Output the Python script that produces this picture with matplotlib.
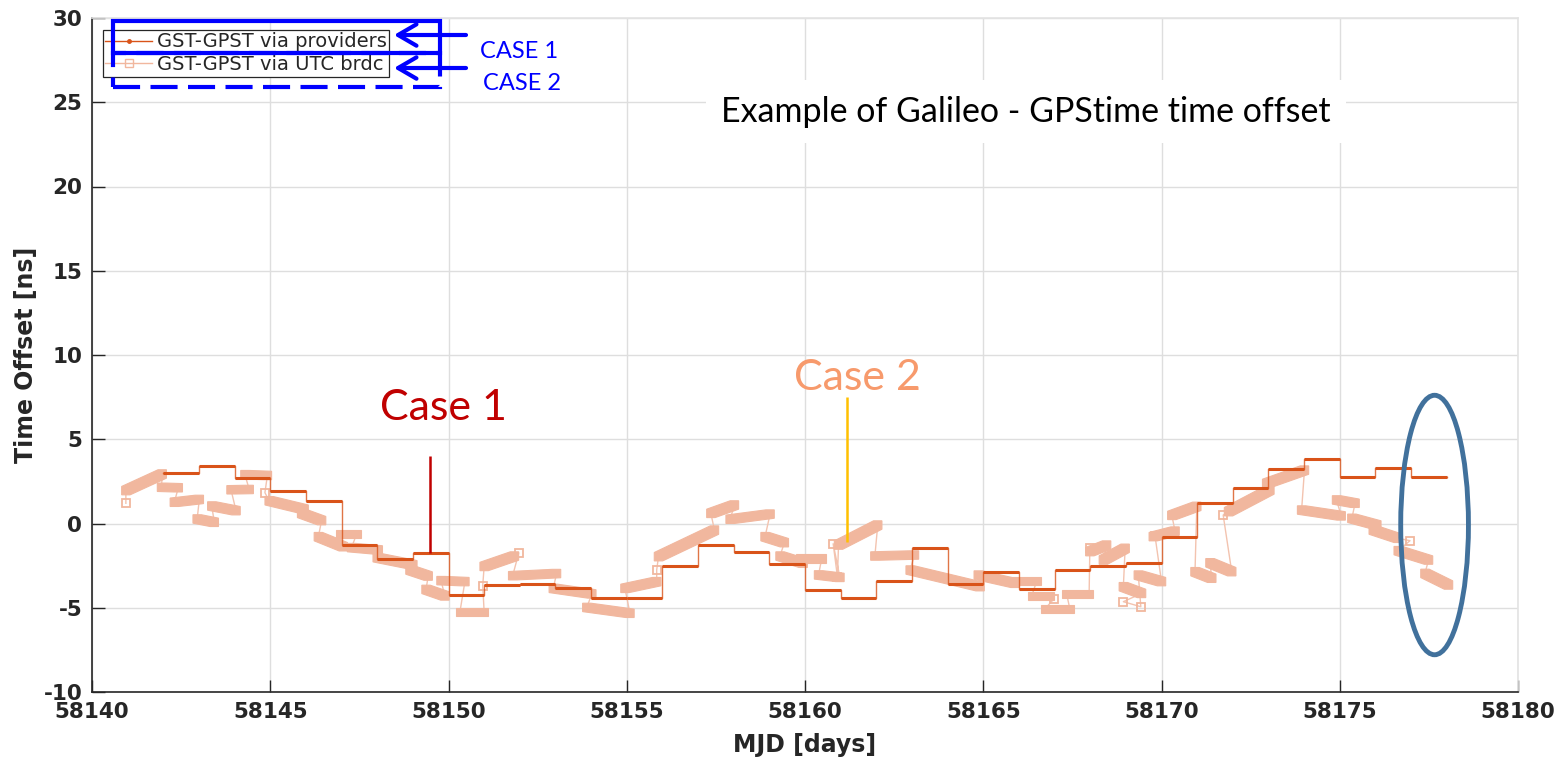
import matplotlib as mpl
mpl.use('Agg')
import matplotlib.pyplot as plt
from matplotlib.lines import Line2D
from matplotlib.patches import Rectangle, Ellipse, FancyArrowPatch, Polygon

plt.rcParams['axes.unicode_minus'] = False

# GST-GPST via providers: daily steps (start MJD, offset in ns)
prov_day = [58142, 58143, 58144, 58145, 58146, 58147, 58148, 58149, 58150, 58151,
            58152, 58153, 58154, 58155, 58156, 58157, 58158, 58159, 58160, 58161,
            58162, 58163, 58164, 58165, 58166, 58167, 58168, 58169, 58170, 58171,
            58172, 58173, 58174, 58175, 58176, 58177]
prov_ns = [2.98, 3.43, 2.68, 1.93, 1.35, -1.30, -2.10, -1.75, -4.25, -3.65,
           -3.62, -3.85, -4.45, -4.45, -2.55, -1.28, -1.70, -2.40, -3.95, -4.44,
           -3.39, -1.43, -3.60, -2.86, -3.90, -2.76, -2.50, -2.36, -0.78, 1.20,
           2.09, 3.25, 3.85, 2.78, 3.29, 2.78]
prov_end = 58178

# GST-GPST via UTC broadcast: each broadcast span (start/end MJD, start/end ns)
utc_t0 = [58140.95, 58140.95, 58141.95, 58142.31, 58142.95, 58143.36, 58143.90, 58144.29,
          58144.85, 58144.97, 58145.88, 58146.35, 58146.96, 58147.28, 58148.00, 58148.92,
          58149.37, 58149.79, 58150.32, 58150.96, 58151.00, 58151.97, 58151.80, 58152.94,
          58153.88, 58154.95, 58155.84, 58155.89, 58157.36, 58157.90, 58158.88, 58159.30,
          58159.86, 58160.38, 58160.79, 58160.91, 58160.94, 58161.96, 58162.95, 58164.86,
          58165.84, 58166.36, 58166.98, 58166.73, 58167.34, 58167.99, 58167.99, 58168.37,
          58168.93, 58168.93, 58169.42, 58169.35, 58169.82, 58169.77, 58170.29, 58170.94,
          58171.36, 58171.73, 58171.88, 58172.95, 58173.93, 58174.91, 58175.34, 58175.94,
          58176.97, 58176.64, 58177.39]
utc_v0 = [1.20, 1.95, 2.15, 1.26, 0.27, 1.04, 2.00, 2.90,
          1.83, 1.35, 0.60, -0.78, -0.64, -1.43, -2.03, -2.76,
          -3.91, -3.39, -5.25, -3.69, -2.55, -1.75, -3.10, -3.85,
          -4.98, -3.85, -2.76, -1.97, 0.60, 0.25, -0.78, -1.93,
          -2.07, -3.05, -1.20, -3.16, -1.28, -1.93, -2.76, -3.06,
          -3.41, -4.30, -4.48, -5.07, -4.20, -1.43, -1.67, -2.17,
          -3.75, -4.64, -4.94, -3.06, -0.76, -0.78, 0.48, -2.86,
          -2.33, 0.50, 0.70, 2.38, 0.80, 1.40, 0.31, -0.39,
          -1.02, -1.61, -2.96]
utc_t1 = [58140.95, 58141.97, 58142.42, 58143.01, 58143.43, 58144.04, 58144.41, 58144.92,
          58144.85, 58145.95, 58146.44, 58147.05, 58147.42, 58148.03, 58149.00, 58149.43,
          58149.90, 58150.46, 58151.00, 58150.96, 58151.85, 58151.97, 58153.03, 58154.02,
          58155.09, 58155.84, 58155.84, 58157.46, 58158.02, 58159.02, 58159.42, 58159.95,
          58160.47, 58160.98, 58160.79, 58160.91, 58162.04, 58163.07, 58164.91, 58165.89,
          58166.50, 58166.87, 58166.98, 58167.43, 58167.97, 58167.99, 58168.46, 58168.98,
          58169.44, 58168.93, 58169.42, 58170.00, 58169.82, 58170.38, 58170.99, 58171.41,
          58171.97, 58171.73, 58173.04, 58174.01, 58175.04, 58175.43, 58176.04, 58176.64,
          58176.97, 58177.49, 58178.05]
utc_v1 = [1.20, 2.94, 2.12, 1.43, 0.07, 0.76, 2.02, 2.85,
          1.83, 0.85, 0.17, -1.38, -0.64, -1.57, -2.45, -3.12,
          -4.30, -3.45, -5.25, -3.69, -1.93, -1.75, -2.97, -4.18,
          -5.33, -3.45, -2.76, -0.39, 1.10, 0.56, -1.14, -2.36,
          -2.07, -3.20, -1.20, -3.16, -0.09, -1.87, -3.75, -3.55,
          -3.41, -4.30, -4.48, -5.07, -4.20, -1.43, -1.28, -1.47,
          -4.15, -4.64, -4.94, -3.45, -0.76, -0.45, 1.02, -3.25,
          -2.86, 0.50, 1.99, 3.17, 0.45, 1.20, -0.09, -0.88,
          -1.02, -2.17, -3.65]

xticks = [58140, 58145, 58150, 58155, 58160, 58165, 58170, 58175, 58180]
yticks = [-10, -5, 0, 5, 10, 15, 20, 25, 30]

c_prov = '#D95319'
c_utc = '#F1B79E'
c_utc_thin = '#F3C3AF'
dark = '#262626'

W, H = 1566, 759
fig = plt.figure(figsize=(W / 100, H / 100), dpi=100)
ax = fig.add_axes([92 / W, 1 - 692 / H, (1518 - 92) / W, (692 - 18) / H])
ax.set_xlim(58140, 58180)
ax.set_ylim(-10, 30)

# providers: thin step line with thick daily levels on top
sx = prov_day + [prov_end]
sy = prov_ns + [prov_ns[-1]]
ax.step(sx, sy, where='post', color=c_prov, lw=1.0, alpha=0.8, zorder=4)
ax.hlines(prov_ns, prov_day, sx[1:], color=c_prov, lw=2.2, zorder=4)

# UTC broadcast: thin line through all points, a band of packed square markers per span
px, py = [], []
for a, b, c, d in zip(utc_t0, utc_v0, utc_t1, utc_v1):
    px += [a, c]
    py += [b, d]
ax.plot(px, py, color=c_utc_thin, lw=1.0, zorder=2)

# half size of a square marker, in data units (about 4 px)
hx = 4.2 / 35.65
hy = 4.2 / 16.85
for a, b, c, d in zip(utc_t0, utc_v0, utc_t1, utc_v1):
    if a == c:
        ax.plot([a], [b], ls='none', marker='s', ms=5.5, mfc='none', mec=c_utc, mew=1.3, zorder=3)
        continue
    if d >= b:
        pts = [(a - hx, b - hy), (a - hx, b + hy), (c - hx, d + hy),
               (c + hx, d + hy), (c + hx, d - hy), (a + hx, b - hy)]
    else:
        pts = [(a - hx, b - hy), (a - hx, b + hy), (a + hx, b + hy),
               (c + hx, d + hy), (c + hx, d - hy), (c - hx, d - hy)]
    ax.add_patch(Polygon(pts, closed=True, fc=c_utc, ec=c_utc, lw=0.8, zorder=3))

ax.set_xticks(xticks)
ax.set_yticks(yticks)
ax.set_xticklabels([str(v) for v in xticks])
ax.set_yticklabels([str(v) for v in yticks])
ax.grid(True, color='#DEDEDE', lw=1.0)
ax.set_axisbelow(True)
ax.tick_params(direction='in', length=9, width=1, colors=dark, pad=7, labelsize=15.5)
for lab in ax.get_xticklabels() + ax.get_yticklabels():
    lab.set_fontweight('bold')
for s in ['left', 'bottom']:
    ax.spines[s].set_color(dark)
    ax.spines[s].set_linewidth(1.2)
for s in ['top', 'right']:
    ax.spines[s].set_color('#E3E3E3')
    ax.spines[s].set_linewidth(1.2)
ax.set_xlabel('MJD [days]', fontsize=17, fontweight='bold', color=dark, labelpad=8)
ax.set_ylabel('Time Offset [ns]', fontsize=17, fontweight='bold', color=dark, labelpad=4)

handles = [Line2D([], [], color=c_prov, lw=1, marker='.', ms=5),
           Line2D([], [], color=c_utc, lw=1, marker='s', ms=6, mfc='none')]
leg = ax.legend(handles, ['GST-GPST via providers', 'GST-GPST via UTC brdc'],
                loc='upper left', bbox_to_anchor=(11 / 1426, 1 - 12 / 674), borderaxespad=0,
                fontsize=14, handlelength=2.4, handletextpad=0.25, labelspacing=0.2,
                borderpad=0.12, fancybox=False, framealpha=1, edgecolor=dark)
leg.get_frame().set_linewidth(0.9)
for t in leg.get_texts():
    t.set_color(dark)

# slide annotations
ax.text(58166.2, 23.85, 'Example of Galileo - GPStime time offset', family='Lato',
        fontsize=24.5, ha='center', va='baseline', color='black', zorder=6,
        bbox=dict(boxstyle='square,pad=0.45', fc='white', ec='none'))
ax.text(58149.86, 6.14, 'Case 1', family='Lato', fontsize=31, color='#C00000',
        ha='center', va='baseline', zorder=6)
ax.vlines(58149.48, -1.75, 4.0, color='#C00000', lw=1.8, zorder=6)
ax.text(58161.46, 7.92, 'Case 2', family='Lato', fontsize=31, color='#F79A6C',
        ha='center', va='baseline', zorder=6)
ax.vlines(58161.17, -1.08, 7.49, color='#FFC000', lw=1.8, zorder=6)
ax.add_patch(Ellipse((58177.66, -0.09), 1.9, 15.4, fill=False, ec='#41719C', lw=3.5, zorder=7))


def fx(x):
    return x / W


def fy(y):
    return 1 - y / H


fig.add_artist(Rectangle((fx(112.5), fy(53.3)), fx(440) - fx(112.5), fy(20.7) - fy(53.3),
                         transform=fig.transFigure, fill=False, ec='#0000FF', lw=3))
fig.add_artist(Rectangle((fx(112.5), fy(86.5)), fx(440) - fx(112.5), fy(53.3) - fy(86.5),
                         transform=fig.transFigure, fill=False, ec='#0000FF', lw=3,
                         ls=(0, (6.5, 2.5))))
for yy in [35, 68]:
    fig.add_artist(FancyArrowPatch((fx(466), fy(yy)), (fx(394), fy(yy)),
                   transform=fig.transFigure, arrowstyle='->,head_length=0.6,head_width=0.35',
                   mutation_scale=22, lw=3, color='#0000FF', shrinkA=0, shrinkB=0))
fig.text(fx(480), fy(58.3), 'CASE 1', family='Lato', fontsize=17, color='#0000FF', va='baseline')
fig.text(fx(483), fy(90), 'CASE 2', family='Lato', fontsize=17, color='#0000FF', va='baseline')

fig.savefig('out.png', dpi=100, facecolor='white')
